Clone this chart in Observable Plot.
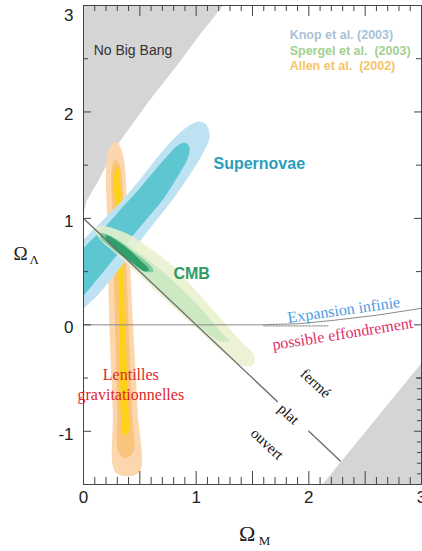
<!DOCTYPE html>
<html><head><meta charset="utf-8">
<script src="https://cdn.jsdelivr.net/npm/d3@7"></script>
<script src="https://cdn.jsdelivr.net/npm/@observablehq/plot@0.6"></script>
<style>html,body{margin:0;padding:0;background:#fff;overflow:hidden}</style>
</head><body><div id="chart"></div>
<script>
// --- regions (Omega_M, Omega_Lambda) ---
const noBigBang = [[0,3],[1.24,3],[1.05,2.75],[0.84,2.45],[0.58,2.1],[0.3,1.69],[0.12,1.33],[0.03,1.17],[0,1.05]];
const recollapseCorner = [[2.12,-1.5],[3,-0.36],[3,-1.5]];
const snOuter = [[-0.2,-0.12],[0.0,0.15],[0.12,0.27],[0.3,0.5],[0.44,0.7],[0.6,0.92],[0.78,1.16],[0.95,1.42],[1.07,1.63],[1.12,1.77],[1.09,1.88],[1.03,1.91],[0.95,1.88],[0.86,1.81],[0.74,1.68],[0.6,1.5],[0.45,1.3],[0.3,1.12],[0.15,0.96],[0.0,0.8],[-0.2,0.55]];
const snInner = [[-0.2,0.0],[0.0,0.27],[0.2,0.53],[0.4,0.79],[0.55,0.98],[0.7,1.17],[0.84,1.4],[0.93,1.58],[0.94,1.67],[0.9,1.71],[0.83,1.68],[0.73,1.57],[0.6,1.41],[0.48,1.26],[0.36,1.12],[0.2,0.93],[0.0,0.72],[-0.2,0.48]];
const lensOuter = [[0.2,1.45],[0.23,1.66],[0.29,1.72],[0.35,1.6],[0.39,1.0],[0.44,0.0],[0.48,-0.8],[0.5,-1.38],[0.39,-1.42],[0.28,-1.38],[0.26,-0.8],[0.23,0.0],[0.21,1.0]];
const lensMid = [[0.25,1.45],[0.28,1.55],[0.32,1.5],[0.36,1.0],[0.4,0.0],[0.43,-0.8],[0.44,-1.2],[0.37,-1.25],[0.31,-1.2],[0.3,-0.8],[0.28,0.0],[0.26,1.0]];
const lensCore = [[0.27,1.4],[0.3,1.5],[0.32,1.4],[0.34,1.0],[0.37,0.0],[0.4,-0.8],[0.4,-1.0],[0.36,-1.05],[0.33,-0.8],[0.32,0.0],[0.29,1.0]];
const cmbOuter = [[0.1,0.9],[0.15,0.93],[0.38,0.86],[0.59,0.72],[0.76,0.58],[1.0,0.32],[1.2,0.08],[1.4,-0.16],[1.52,-0.3],[1.5,-0.38],[1.4,-0.38],[1.2,-0.22],[1.0,-0.03],[0.75,0.21],[0.5,0.46],[0.3,0.66],[0.15,0.8]];
const cmbInner = [[0.12,0.88],[0.4,0.74],[0.7,0.5],[1.0,0.2],[1.25,-0.1],[1.3,-0.15],[1.2,-0.15],[1.0,0.02],[0.7,0.3],[0.4,0.6],[0.15,0.82]];
const cmbMid = [[0.16,0.86],[0.3,0.8],[0.45,0.68],[0.6,0.55],[0.62,0.5],[0.55,0.5],[0.4,0.6],[0.25,0.72],[0.15,0.82]];
const cmbCore = [[0.2,0.84],[0.35,0.75],[0.5,0.61],[0.58,0.52],[0.55,0.5],[0.45,0.57],[0.3,0.69],[0.2,0.8]];
const flatA = [[0,1],[1.72,-0.72]];
const flatB = [[2.0,-1.0],[2.28,-1.28]];
const expansionLine = [[0,0],[1.55,0],[1.9,0.01],[2.2,0.04],[2.6,0.09],[3,0.155]];
const dottedLine = [[1.6,-0.01],[2.17,-0.01]];
// --- ticks and labels ---
const xTickLabels = [0,1,2,3];
const yTickLabels = [2,1,0,-1];
const yTopLabel = [3];
const legendNames = ["Knop et al. (2003)","Spergel et al.  (2003)","Allen et al.  (2002)"];
const legendColors = ["#a9c2d8","#a3d18f","#f6c56b"];

const r1 = v => Math.round(v*10)/10;
const xTenths = d3.range(1,30).map(i=>r1(i/10));
const xMinor = xTenths.filter(v => Math.abs(v*2-Math.round(v*2))>1e-6);
const xMajor = [0.5,1,1.5,2,2.5];
const yHalfMinor = [2.5,1.5,0.5,-0.5];
const yInt = [2,1,0,-1];
const yRightTenths = d3.range(-14,-4).map(i=>r1(i/10)).filter(v=>v!==-1);

const P = (arr, opts) => Plot.line(arr, {x: d=>d[0], y: d=>d[1], stroke: "none", clip: true, ...opts});
const sans = "Liberation Sans, Arial, sans-serif";
const serif = "Liberation Serif, Times New Roman, serif";

const chart = Plot.plot({
  width: 422, height: 551,
  marginTop: 5, marginLeft: 83, marginRight: 1, marginBottom: 67,
  x: {domain: [0,3]}, y: {domain: [-1.5,3]},
  axis: null,
  style: {fontFamily: sans, background: "#fff", overflow: "visible"},
  marks: [
    P(noBigBang, {fill: "#d5d5d5"}),
    P(recollapseCorner, {fill: "#d5d5d5"}),
    P(lensOuter, {fill: "#fcd6ad", curve: "catmull-rom-closed"}),
    P(lensMid, {fill: "#f9c47c", curve: "catmull-rom-closed"}),
    P(lensCore, {fill: "#ffd21a", curve: "catmull-rom-closed"}),
    P(snOuter, {fill: "#bde3f2", curve: "catmull-rom-closed"}),
    P(snInner, {fill: "#5ec6d0", curve: "catmull-rom-closed"}),
    P(cmbOuter, {fill: "#e9f1cd", fillOpacity: 0.85, curve: "catmull-rom-closed"}),
    P(cmbInner, {fill: "#c6e6bf", fillOpacity: 0.8, curve: "catmull-rom-closed"}),
    P(cmbMid, {fill: "#7fcb9c", curve: "catmull-rom-closed"}),
    P(cmbCore, {fill: "#2f9f6c", curve: "catmull-rom-closed"}),
    P(expansionLine, {stroke: "#8a8a8a", strokeWidth: 1}),
    P(dottedLine, {stroke: "#777", strokeWidth: 1, strokeDasharray: "1.5,1.5"}),
    P(flatA, {stroke: "#6e6e6e", strokeWidth: 1.4}),
    P(flatB, {stroke: "#6e6e6e", strokeWidth: 1.4}),
    // frame and inward ticks
    Plot.frame({stroke: "#444"}),
    Plot.axisX(xMinor, {anchor: "bottom", tickSize: -7, fill: "none", stroke: "#444", label: null}),
    Plot.axisX(xMajor, {anchor: "bottom", tickSize: -13, fill: "none", stroke: "#444", label: null}),
    Plot.axisX(xMinor, {anchor: "top", tickSize: -5, fill: "none", stroke: "#444", label: null}),
    Plot.axisX(xMajor, {anchor: "top", tickSize: -10, fill: "none", stroke: "#444", label: null}),
    Plot.axisY(yHalfMinor, {anchor: "left", tickSize: -5, fill: "none", stroke: "#444", label: null}),
    Plot.axisY(yInt, {anchor: "left", tickSize: -8, fill: "none", stroke: "#444", label: null}),
    Plot.axisY(yHalfMinor, {anchor: "right", tickSize: -6, fill: "none", stroke: "#444", label: null}),
    Plot.axisY([2,1,0,-1], {anchor: "right", tickSize: -8, fill: "none", stroke: "#444", label: null}),
    Plot.axisY(yRightTenths, {anchor: "right", tickSize: -5, fill: "none", stroke: "#444", label: null}),
    // tick labels
    Plot.text(xTickLabels, {x: d=>d, frameAnchor: "bottom", dy: 18, text: d=>String(d), fontSize: 17, fill: "#222"}),
    Plot.text(yTickLabels, {y: d=>d, frameAnchor: "left", dx: -10, dy: 3, textAnchor: "end", text: d=>String(d), fontSize: 17, fill: "#222"}),
    Plot.text(yTopLabel, {y: d=>d, frameAnchor: "left", dx: -10, dy: 10, textAnchor: "end", text: d=>String(d), fontSize: 17, fill: "#222"}),
    // axis titles
    Plot.text(["Ω"], {frameAnchor: "left", y: 0.67, dx: -70, textAnchor: "start", fontFamily: serif, fontSize: 19, fill: "#222"}),
    Plot.text(["Λ"], {frameAnchor: "left", y: 0.67, dx: -54, dy: 6, textAnchor: "start", fontFamily: serif, fontSize: 13, fill: "#222"}),
    Plot.text(["Ω"], {frameAnchor: "bottom", x: 1.38, dy: 56, textAnchor: "start", fontFamily: serif, fontSize: 22, fill: "#222"}),
    Plot.text(["M"], {frameAnchor: "bottom", x: 1.555, dy: 60, textAnchor: "start", fontFamily: serif, fontSize: 13, fill: "#222"}),
    // annotations
    Plot.text(["No Big Bang"], {x: 0.09, y: 2.58, textAnchor: "start", fontSize: 14, fill: "#333"}),
    Plot.text(legendNames, {x: 1.83, y: (d,i)=>[2.72,2.57,2.43][i], textAnchor: "start", fontSize: 12.5, fontWeight: "bold", fill: (d,i)=>legendColors[i]}),
    Plot.text(["Supernovae"], {x: 1.56, y: 1.51, fontSize: 16, fontWeight: "bold", fill: "#2a9dbb"}),
    Plot.text(["CMB"], {x: 0.96, y: 0.48, fontSize: 16, fontWeight: "bold", fill: "#2f9a66"}),
    Plot.text(["Lentilles"], {x: 0.42, y: -0.47, fontFamily: serif, fontSize: 16, fill: "#e0262a"}),
    Plot.text(["gravitationnelles"], {x: 0.42, y: -0.66, fontFamily: serif, fontSize: 16, fill: "#e0262a"}),
    Plot.text(["Expansion infinie"], {x: 2.31, y: 0.14, rotate: -8, fontFamily: serif, fontSize: 16, fill: "#4b9de0"}),
    Plot.text(["possible effondrement"], {x: 2.30, y: -0.085, rotate: -9, fontFamily: serif, fontSize: 16, fill: "#e2306c"}),
    Plot.text(["fermé"], {x: 2.06, y: -0.55, rotate: 43, fontFamily: serif, fontSize: 15, fill: "#111"}),
    Plot.text(["plat"], {x: 1.82, y: -0.84, rotate: 43, fontFamily: serif, fontSize: 15, fill: "#111"}),
    Plot.text(["ouvert"], {x: 1.63, y: -1.12, rotate: 43, fontFamily: serif, fontSize: 15, fill: "#111"})
  ]
});
document.getElementById("chart").appendChild(chart);
</script>
</body></html>
